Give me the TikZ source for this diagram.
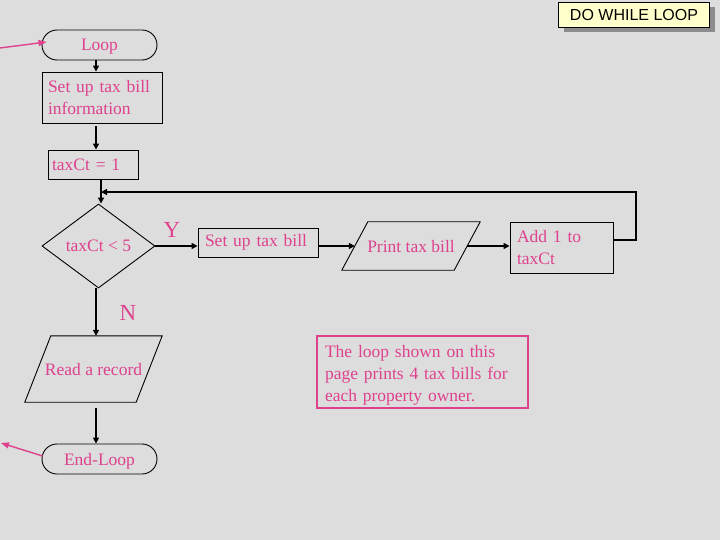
\documentclass[tikz,border=0pt]{standalone}
\usepackage{fontspec}
\setmainfont{Liberation Serif}
\newfontfamily\titlefont{Liberation Sans}
\usetikzlibrary{shapes.geometric,shapes.misc,arrows.meta,shadows,calc}
\definecolor{bg}{RGB}{221,221,221}
\definecolor{pk}{RGB}{222,66,142}
\definecolor{ylw}{RGB}{255,255,204}
\definecolor{shd}{RGB}{140,140,140}
\begin{document}
\begin{tikzpicture}[x=1pt,y=-1pt,
  txt/.style={text=pk, font=\fontsize{17.5}{22}\selectfont},
  shapebox/.style={draw=black, line width=0.9pt, txt, inner sep=0pt},
  rectbox/.style={shapebox, rectangle, align=left},
  term/.style={shapebox, rounded rectangle, text depth=0pt},
  dec/.style={shapebox, diamond},
  io/.style={txt, inner sep=0pt, rectangle, text depth=0pt},
  ioline/.style={draw=black, line width=0.9pt},
  flow/.style={draw=black, line width=2pt, -{Triangle[length=6pt,width=6pt]}},
  pinkarrow/.style={draw=pk, line width=1.4pt, -{Triangle[length=8pt,width=6pt]}},
  lbl/.style={text=pk, font=\fontsize{23}{23}\selectfont, inner sep=0pt},
  titlebox/.style={draw=black, line width=0.9pt, fill=ylw, font=\titlefont\fontsize{16}{16}\selectfont,
    inner sep=0pt, drop shadow={shadow xshift=5pt, shadow yshift=-5pt, fill=shd, opacity=1}},
]
\fill[bg] (0,0) rectangle (720,540);
\useasboundingbox (0,0) rectangle (720,540);

% title
\node[titlebox, minimum width=151, minimum height=25] (title) at (634,14.5) {DO WHILE LOOP};

% main column
\node[term, minimum width=115, minimum height=30] (loop) at (99.5,45) {Loop};
\node[rectbox, minimum width=120, minimum height=51, inner xsep=6pt, text width=108] (info) at (102,97.5)
  {Set up tax bill\\information};
\node[rectbox, minimum width=90, minimum height=29, inner xsep=4pt, text width=82] (taxct) at (93,164.5)
  {taxCt = 1};
\node[dec, minimum width=113, minimum height=84] (dec) at (98.5,246) {taxCt < 5};
\node[io, minimum width=111, minimum height=66] (read) at (93.5,369) {Read a record};
\node[term, minimum width=115, minimum height=30] (endl) at (99.5,459) {End-Loop};

% loop body row
\node[rectbox, minimum width=120, minimum height=29, inner xsep=7pt, text width=106] (setup) at (258,242.5)
  {Set up tax bill};
\node[io, minimum width=112, minimum height=48] (print) at (411,246) {Print tax bill};
\node[rectbox, minimum width=103, minimum height=51, inner xsep=7pt, text width=89] (add) at (561.5,247.5)
  {Add 1 to\\taxCt};

% parallelogram outlines
\draw[ioline] ($(read.north west)+(13,0)$) -- ($(read.north east)+(13,0)$)
  -- ($(read.south east)+(-13,0)$) -- ($(read.south west)+(-13,0)$) -- cycle;
\draw[ioline] ($(print.north west)+(13,0)$) -- ($(print.north east)+(13,0)$)
  -- ($(print.south east)+(-13,0)$) -- ($(print.south west)+(-13,0)$) -- cycle;

% note
\node[rectbox, draw=pk, line width=1.2pt, minimum width=211, minimum height=72, inner xsep=8pt, text width=195]
  (note) at (422.5,372) {\rule{0pt}{17.9pt}The loop shown on this\\page prints 4 tax bills for\\each property owner.};

% labels
\node[lbl] (ylab) at (172,230) {Y};
\node[lbl] (nlab) at (128,313) {N};

% helper coordinates
\coordinate (colx) at (96,0);
\coordinate (lbJ) at (101,192);
\coordinate (lbT) at (636,192);
\coordinate (lbR) at (636,240);
\coordinate (pa1) at (0,48);
\coordinate (pa2) at (1,443);

% connectors
\draw[flow] (loop.south -| colx) -- (info.north -| colx);
\draw[flow, shorten <=3pt] (info.south -| colx) -- (taxct.north -| colx);
\draw[flow] (taxct.south -| lbJ) -- (dec.north -| lbJ);
\draw[flow] (add.east |- lbR) -- (lbR) -- (lbT) -- (lbJ);
\draw[flow] (dec.east) -- (dec.east -| setup.west);
\draw[flow] (setup.east |- dec.east) -- (print.west);
\draw[flow] (print.east) -- (print.east -| add.west);
\draw[flow] (dec.south -| colx) -- (read.north -| colx);
\draw[flow, shorten <=6pt] (read.south -| colx) -- (endl.north -| colx);

% pink arrows
\draw[pinkarrow] (pa1) -- ([xshift=5pt,yshift=3pt]loop.west);
\draw[pinkarrow] ([xshift=1pt,yshift=3pt]endl.west) -- (pa2);
\end{tikzpicture}
\end{document}
